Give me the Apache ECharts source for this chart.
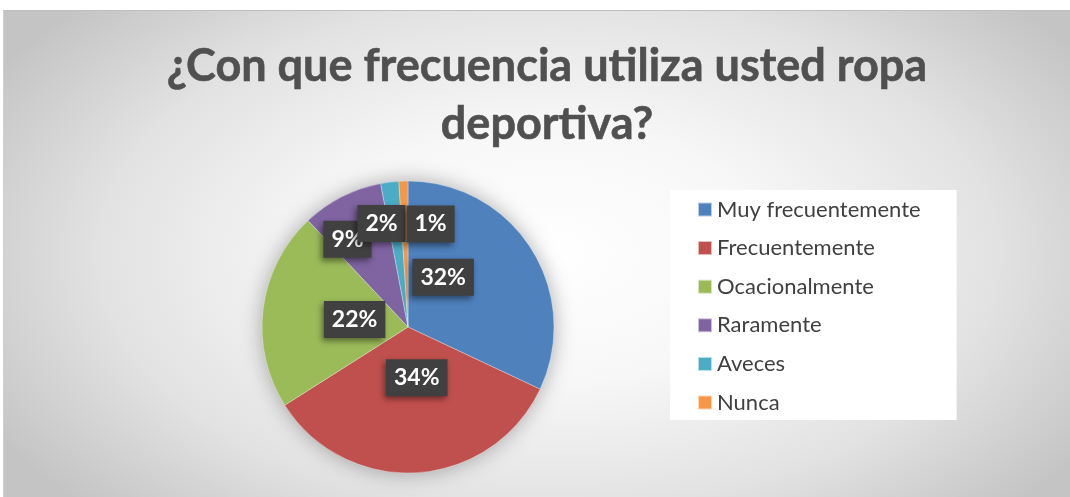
<!DOCTYPE html>
<html>
<head>
<meta charset="utf-8">
<title>Ropa deportiva</title>
<script src="https://cdn.jsdelivr.net/npm/echarts@6/dist/echarts.min.js"></script>
<style>
  body { margin: 0; background: #ffffff; }
  #bg {
    position: absolute; left: 3px; top: 10px; width: 1067px; height: 487px;
    border-top: 1px solid #bfbfbf; border-left: 1px solid #d0d0d0;
    background: radial-gradient(ellipse 60% 75% at 51% 50%, #ffffff 0%, #f7f7f7 35%, #e2e2e2 70%, #c4c4c4 100%);
  }
  #main { position: absolute; left: 0; top: 0; width: 1070px; height: 497px; }
</style>
</head>
<body>
<div id="bg"></div>
<div id="main"></div>
<script>
// datos (porcentaje)
var categorias = ["Muy frecuentemente", "Frecuentemente", "Ocacionalmente", "Raramente", "Aveces", "Nunca"];
var valores = [32, 34, 22, 9, 2, 1];
var colores = ["#4F81BD", "#C0504D", "#9BBB59", "#8064A2", "#4BACC6", "#F79646"];
// desplazamiento de cada etiqueta respecto a la posicion "inside"
var desplazamientos = [[-29, -9], [4, -25], [22, 2], [-26, -20], [-17, -28], [25, -27]];

var datos = [];
for (var i = 0; i < categorias.length; i++) {
  datos.push({
    name: categorias[i],
    value: valores[i],
    itemStyle: { color: colores[i] },
    label: { offset: desplazamientos[i] },
  });
}

var chart = echarts.init(document.getElementById("main"));
var option = {
  backgroundColor: "transparent",
  title: {
    text: "¿Con que frecuencia utiliza usted ropa\ndeportiva?",
    left: 542,
    textAlign: "center",
    top: 32,
    textStyle: {
      fontFamily: "Lato",
      fontWeight: "bold",
      fontSize: 45,
      lineHeight: 58,
      color: "#505050",
      textBorderColor: "#505050",
      textBorderWidth: 0.6,
    },
  },
  legend: {
    orient: "vertical",
    left: 670,
    top: 190,
    padding: [8, 36, 6, 27],
    backgroundColor: "#ffffff",
    itemWidth: 14,
    itemHeight: 14,
    itemGap: 15.6,
    icon: "rect",
    selectedMode: false,
    textStyle: { fontFamily: "Lato", fontSize: 22, lineHeight: 23, color: "#404040" },
    data: categorias,
  },
  series: [
    {
      // sombra del circulo
      type: "pie",
      silent: true,
      center: [408, 327],
      radius: 145,
      label: { show: false },
      itemStyle: {
        color: "#e8e8e8",
        shadowBlur: 22,
        shadowColor: "rgba(0,0,0,0.35)",
      },
      data: [1],
      z: 1,
    },
    {
      name: "Frecuencia",
      type: "pie",
      center: [408, 327],
      radius: 146,
      startAngle: 90,
      clockwise: true,
      avoidLabelOverlap: false,
      labelLayout: { hideOverlap: false },
      z: 2,
      label: {
        show: true,
        position: "inside",
        formatter: "{d}%",
        fontFamily: "Lato",
        fontWeight: "bold",
        fontSize: 23,
        color: "#ffffff",
        backgroundColor: "#404040",
        padding: [8, 8, 6, 8],
        shadowColor: "rgba(0,0,0,0.45)",
        shadowBlur: 6,
        shadowOffsetX: -2,
        shadowOffsetY: 3,
      },
      labelLine: { show: false },
      itemStyle: { borderColor: "rgba(255,255,255,0.6)", borderWidth: 0.5 },
      emphasis: { scale: false },
      data: datos,
    },
  ],
};
chart.setOption(option);
</script>
</body>
</html>
